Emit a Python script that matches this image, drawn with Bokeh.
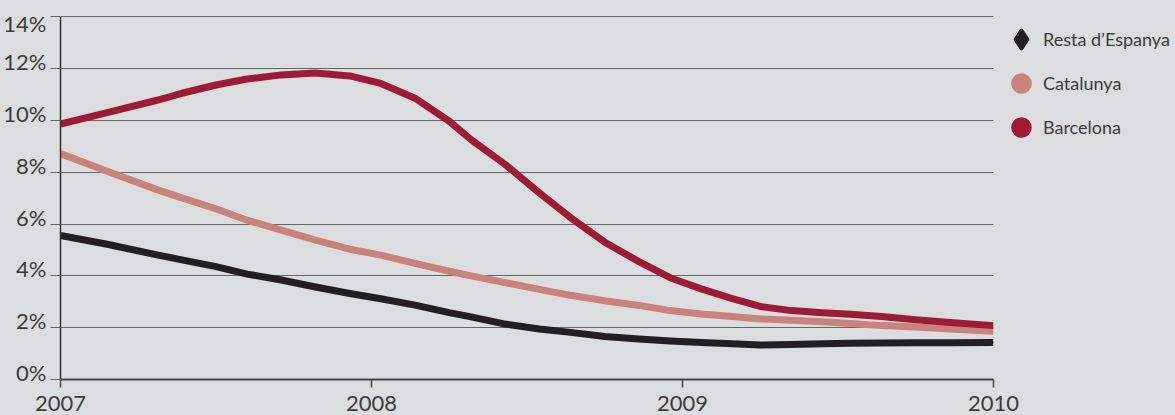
import numpy as np
from bokeh.plotting import figure
from bokeh.models import (Range1d, Legend, LegendItem, FixedTicker,
                          CustomJSTickFormatter, LinearAxis)
from bokeh.embed import file_html
from bokeh.resources import INLINE

# ---------------- data (values in %) ----------------
years = [2007.00, 2007.15, 2007.31, 2007.39, 2007.50, 2007.60, 2007.71,
         2007.82, 2007.93, 2008.03, 2008.14, 2008.25, 2008.32, 2008.43,
         2008.54, 2008.64, 2008.75, 2008.86, 2008.96, 2009.06, 2009.16,
         2009.25, 2009.35, 2009.45, 2009.54, 2009.64, 2009.75, 2009.86,
         2010.00]

barcelona = [9.86, 10.30, 10.78, 11.05, 11.37, 11.60, 11.76,
             11.83, 11.72, 11.43, 10.86, 9.97, 9.26, 8.30,
             7.20, 6.25, 5.30, 4.55, 3.93, 3.50, 3.12,
             2.82, 2.66, 2.58, 2.52, 2.43, 2.31, 2.20,
             2.08]

catalunya = [8.72, 8.04, 7.33, 7.01, 6.59, 6.15, 5.77,
             5.38, 5.03, 4.80, 4.48, 4.18, 4.00, 3.74,
             3.48, 3.25, 3.04, 2.86, 2.66, 2.53, 2.43,
             2.34, 2.29, 2.23, 2.16, 2.08, 2.03, 1.95,
             1.86]

resta = [5.56, 5.22, 4.81, 4.62, 4.36, 4.07, 3.84,
         3.57, 3.32, 3.12, 2.87, 2.58, 2.42, 2.14,
         1.95, 1.82, 1.66, 1.56, 1.49, 1.43, 1.38,
         1.33, 1.35, 1.38, 1.40, 1.41, 1.42, 1.42,
         1.43]

series_names = ["Resta d\u2019Espanya", "Catalunya", "Barcelona"]

y_ticks = [0, 2, 4, 6, 8, 10, 12, 14]
y_tick_labels = ["0%", "2%", "4%", "6%", "8%", "10%", "12%", "14%"]
x_ticks = [2007, 2008, 2009, 2010]
x_tick_labels = ["2007", "2008", "2009", "2010"]

# ---------------- style ----------------
BG = "#dcdddf"
TXT = "#3c3c3c"
FONT = "Lato"
C_BCN = "#9e1b36"
C_CAT = "#c9837e"
C_RESTA = "#231f20"

Y_TOP = 14.4          # headroom above the 14% line
LAB_SHIFT = 0.27      # tick labels sit just above their grid line
TOP_LAB_DROP = 0.53   # the top label (14%) hangs just below its line instead

p = figure(frame_width=933, frame_height=373,
           x_range=Range1d(x_ticks[0], x_ticks[-1]),
           y_range=Range1d(y_ticks[0], Y_TOP),
           output_backend="svg", toolbar_location=None,
           min_border_left=59, min_border_right=183,
           min_border_top=6, min_border_bottom=30,
           background_fill_color=BG, border_fill_color=BG,
           outline_line_color=None)

# x axis
xa = p.xaxis[0]
xa.ticker = FixedTicker(ticks=x_ticks)
xa.major_label_overrides = {t: l for t, l in zip(x_ticks, x_tick_labels)}
xa.axis_line_color = "#444444"
xa.axis_line_width = 2
xa.major_tick_line_color = "#444444"
xa.major_tick_line_width = 1.5
xa.major_tick_out = 8
xa.major_tick_in = 0
xa.minor_tick_line_color = None
xa.major_label_text_font = FONT
xa.major_label_text_font_size = "22px"
xa.major_label_text_color = TXT
xa.major_label_standoff = 8

# y axis: line + outward tick stubs, no labels
ya = p.yaxis[0]
ya.ticker = FixedTicker(ticks=y_ticks)
ya.bounds = (y_ticks[0], y_ticks[-1])
ya.formatter = CustomJSTickFormatter(code="return ''")
ya.axis_line_color = "#333333"
ya.axis_line_width = 1.5
ya.major_tick_line_color = "#666666"
ya.major_tick_line_width = 1
ya.major_tick_out = 10
ya.major_tick_in = 0
ya.minor_tick_line_color = None
ya.major_label_standoff = 0

# y tick labels on a shifted copy of the range so they sit above the grid lines
lab_pos = [float(t) for t in y_ticks[:-1]] + [round(y_ticks[-1] - TOP_LAB_DROP, 2)]
p.extra_y_ranges = {"lab": Range1d(y_ticks[0] - LAB_SHIFT, Y_TOP - LAB_SHIFT)}
lab_axis = LinearAxis(y_range_name="lab", ticker=FixedTicker(ticks=lab_pos),
                      major_label_overrides={t: l for t, l in zip(lab_pos, y_tick_labels)},
                      axis_line_color=None, major_tick_line_color=None,
                      minor_tick_line_color=None, major_tick_out=0, major_tick_in=0,
                      minor_tick_out=0, minor_tick_in=0,
                      major_label_standoff=4, major_label_text_font=FONT,
                      major_label_text_font_size="22px", major_label_text_color=TXT)
p.add_layout(lab_axis, "left")

p.xgrid.grid_line_color = None
p.ygrid.ticker = FixedTicker(ticks=y_ticks)
p.ygrid.grid_line_color = "#666666"
p.ygrid.grid_line_width = 1

# lines
p.line(years, resta, line_width=7, line_color=C_RESTA, line_cap="butt", line_join="round")
p.line(years, catalunya, line_width=7, line_color=C_CAT, line_cap="butt", line_join="round")
p.line(years, barcelona, line_width=7, line_color=C_BCN, line_cap="butt", line_join="round")

# legend markers (placeholder renderers: a single NaN point, so nothing is plotted)
nan = np.array([np.nan])
r_resta = p.scatter(x=nan, y=nan, marker="diamond", fill_color=C_RESTA, line_color=C_RESTA,
                    line_width=4, line_join="round")
r_cat = p.scatter(x=nan, y=nan, marker="circle", fill_color=C_CAT, line_color=C_CAT, line_width=3)
r_bcn = p.scatter(x=nan, y=nan, marker="circle", fill_color=C_BCN, line_color=C_BCN, line_width=3)

legend = Legend(items=[LegendItem(label=series_names[0], renderers=[r_resta]),
                       LegendItem(label=series_names[1], renderers=[r_cat]),
                       LegendItem(label=series_names[2], renderers=[r_bcn])],
                location=(6, 230), orientation="vertical",
                glyph_width=44, glyph_height=44, spacing=0,
                label_standoff=0, padding=0, margin=0,
                border_line_color=None, background_fill_alpha=0,
                label_text_font=FONT, label_text_font_size="18px",
                label_text_color=TXT)
p.add_layout(legend, "right")

html = file_html(p, INLINE, title="chart")
html = html.replace("</head>",
                    "<style>html,body{margin:0;padding:0;background:%s;overflow:hidden;}</style></head>" % BG, 1)
open("out.html", "w").write(html)
